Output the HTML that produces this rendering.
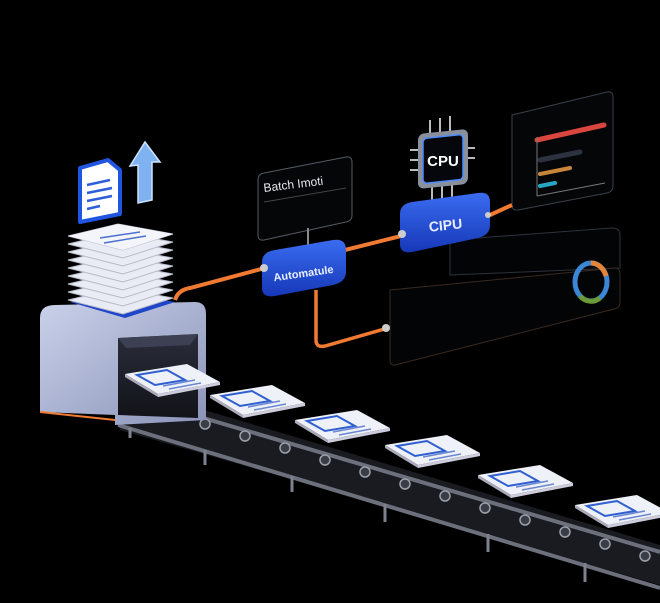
<!DOCTYPE html>
<html><head><style>
html,body{margin:0;padding:0;background:#000;}
svg{display:block;}
text{font-family:"Liberation Sans",sans-serif;}
</style></head><body>
<svg width="660" height="603" viewBox="0 0 660 603" xmlns="http://www.w3.org/2000/svg">
<defs>
<linearGradient id="box" x1="0" y1="0" x2="1" y2="1"><stop offset="0" stop-color="#c9d1ea"/><stop offset="1" stop-color="#8b93b8"/></linearGradient>
<linearGradient id="inner" x1="0" y1="0" x2="0" y2="1"><stop offset="0" stop-color="#2a2d3a"/><stop offset="1" stop-color="#111318"/></linearGradient>
<linearGradient id="pill" x1="0" y1="0" x2="0" y2="1"><stop offset="0" stop-color="#3a6cf0"/><stop offset="1" stop-color="#1638b8"/></linearGradient>
<g id="paper"><polygon points="0,10 62,0 95,18 33,30" fill="#eef1f8"/><polygon points="0,10 33,30 33,33 0,13" fill="#aab"/><polygon points="33,30 95,18 95,21 33,33" fill="#ccd"/><polygon points="12,11 42,6 60,16 30,21" fill="none" stroke="#2f5fd0" stroke-width="2"/><line x1="38" y1="22" x2="70" y2="16" stroke="#6b86d0" stroke-width="1.5"/><line x1="44" y1="25" x2="76" y2="19" stroke="#6b86d0" stroke-width="1.5"/></g>
</defs>
<!-- panels -->
<path d="M512,115 L607,92 Q613,91 613,97 L613,185 Q613,192 607,193 L518,210 Q512,211 512,205 Z" fill="#050608" stroke="#3a3f4a" stroke-width="1"/>
<line x1="537" y1="140" x2="604" y2="125" stroke="#d9463f" stroke-width="5" stroke-linecap="round"/>
<line x1="537" y1="137" x2="537" y2="196" stroke="#777" stroke-width="1"/>
<line x1="537" y1="196" x2="605" y2="183" stroke="#777" stroke-width="1"/>
<line x1="540" y1="160" x2="580" y2="152" stroke="#2c3340" stroke-width="5" stroke-linecap="round"/>
<line x1="540" y1="174" x2="570" y2="168" stroke="#c8863a" stroke-width="4" stroke-linecap="round"/>
<line x1="540" y1="186" x2="555" y2="183" stroke="#27a7c4" stroke-width="4" stroke-linecap="round"/>
<path d="M450,240 L612,228 Q620,228 620,235 L620,268 L450,275 Z" fill="#030405" stroke="#2d323b" stroke-width="1"/>
<path d="M390,290 L615,268 Q620,268 620,275 L620,302 Q620,308 614,309 L395,365 Q390,366 390,360 Z" fill="#030405" stroke="#3a2a20" stroke-width="1"/>
<ellipse cx="591" cy="282" rx="16" ry="19" fill="none" stroke="#3b87d6" stroke-width="5"/>
<path d="M591,263 A16,19 0 0 1 606,276" fill="none" stroke="#e5853a" stroke-width="5"/>
<path d="M580,296 A16,19 0 0 0 600,298" fill="none" stroke="#6a9a3a" stroke-width="5"/>
<!-- pipes -->
<path d="M175,300 Q178,290 190,288 L265,268" fill="none" stroke="#f07a32" stroke-width="4"/>
<path d="M345,250 L405,235" fill="none" stroke="#f07a32" stroke-width="4"/>
<path d="M490,215 L512,205" fill="none" stroke="#f07a32" stroke-width="4"/>
<path d="M316,290 L316,340 Q316,348 325,346 L388,328" fill="none" stroke="#f07a32" stroke-width="3.5"/>
<circle cx="386" cy="328" r="4" fill="#ccc"/>
<!-- batch box -->
<path d="M258,180 Q258,174 264,173 L346,157 Q352,156 352,162 L352,215 Q352,221 346,222 L264,240 Q258,241 258,235 Z" fill="#050608" stroke="#555a66" stroke-width="1"/>
<text x="264" y="192" font-size="12" fill="#e5e7ee" transform="rotate(-7 264 192)">Batch Imoti</text>
<line x1="264" y1="202" x2="346" y2="188" stroke="#444" stroke-width="1"/>
<line x1="308" y1="228" x2="308" y2="246" stroke="#888" stroke-width="2"/>
<!-- Automatule pill -->
<path d="M262,262 Q262,252 275,250 L333,240 Q346,238 346,250 L346,272 Q346,282 333,285 L275,296 Q262,298 262,288 Z" fill="url(#pill)"/>
<text x="304" y="277" font-size="11" font-weight="bold" fill="#e8eeff" text-anchor="middle" transform="rotate(-8 304 277)">Automatule</text>
<circle cx="264" cy="268" r="4" fill="#ccc"/>
<!-- CPU chip -->
<g stroke="#bbb" stroke-width="2"><line x1="430" y1="120" x2="430" y2="135"/><line x1="440" y1="118" x2="440" y2="133"/><line x1="450" y1="116" x2="450" y2="131"/><line x1="410" y1="150" x2="420" y2="150"/><line x1="410" y1="160" x2="420" y2="160"/><line x1="410" y1="170" x2="420" y2="170"/><line x1="465" y1="148" x2="475" y2="148"/><line x1="465" y1="158" x2="475" y2="158"/><line x1="432" y1="185" x2="432" y2="205"/><line x1="442" y1="185" x2="442" y2="205"/><line x1="452" y1="185" x2="452" y2="205"/></g>
<rect x="418" y="132" width="50" height="55" rx="6" fill="#8a8f9c" transform="skewY(-6) translate(0,46)"/>
<rect x="423" y="137" width="40" height="45" rx="4" fill="#05070c" stroke="#4d8cff" stroke-width="1.5" transform="skewY(-6) translate(0,46)"/>
<text x="443" y="166" font-size="15" font-weight="bold" fill="#fff" text-anchor="middle">CPU</text>
<!-- CIPU pill -->
<path d="M400,214 Q400,204 412,202 L478,193 Q490,191 490,202 L490,225 Q490,235 478,238 L412,252 Q400,254 400,244 Z" fill="url(#pill)"/>
<text x="446" y="230" font-size="14" font-weight="bold" fill="#e8eeff" text-anchor="middle" transform="rotate(-6 446 230)">CIPU</text>
<circle cx="402" cy="234" r="4" fill="#ccc"/>
<circle cx="488" cy="215" r="3" fill="#ccc"/>
<!-- conveyor -->
<polygon points="120,385 660,545 660,585 120,430" fill="#1a1b20"/>
<line x1="118" y1="393" x2="660" y2="552" stroke="#6c707c" stroke-width="4"/>
<line x1="118" y1="425" x2="660" y2="588" stroke="#6c707c" stroke-width="4"/>
<g fill="#3a3d46" stroke="#9aa0ad" stroke-width="1.5">
<circle cx="125" cy="400" r="5"/><circle cx="165" cy="412" r="5"/><circle cx="205" cy="424" r="5"/><circle cx="245" cy="436" r="5"/><circle cx="285" cy="448" r="5"/><circle cx="325" cy="460" r="5"/><circle cx="365" cy="472" r="5"/><circle cx="405" cy="484" r="5"/><circle cx="445" cy="496" r="5"/><circle cx="485" cy="508" r="5"/><circle cx="525" cy="520" r="5"/><circle cx="565" cy="532" r="5"/><circle cx="605" cy="544" r="5"/><circle cx="645" cy="556" r="5"/>
</g>
<g stroke="#7d828e" stroke-width="3"><line x1="130" y1="428" x2="130" y2="438"/><line x1="205" y1="450" x2="205" y2="465"/><line x1="292" y1="476" x2="292" y2="492"/><line x1="385" y1="504" x2="385" y2="522"/><line x1="488" y1="534" x2="488" y2="552"/><line x1="585" y1="563" x2="585" y2="582"/></g>
<!-- papers on conveyor -->
<use href="#paper" x="210" y="385"/>
<use href="#paper" x="295" y="410"/>
<use href="#paper" x="385" y="435"/>
<use href="#paper" x="478" y="465"/>
<use href="#paper" x="575" y="495"/>
<!-- machine box -->
<path d="M40,318 Q40,305 55,305 L195,302 Q206,302 206,314 L206,420 L115,425 L115,415 L40,412 Z" fill="url(#box)"/>
<path d="M118,338 L198,334 L198,418 L118,415 Z" fill="url(#inner)"/>
<path d="M118,338 L198,334 L190,345 L126,348 Z" fill="#3c4052"/>
<line x1="40" y1="412" x2="115" y2="420" stroke="#f07a32" stroke-width="2"/>
<use href="#paper" x="125" y="364"/>
<!-- stack -->
<g>
<polygon points="70,302 120,292 175,302 125,318" fill="#1f45c8"/>
<g fill="#e9ecf4" stroke="#b8bccb" stroke-width="1">
<polygon points="68,300 118,288 173,298 123,314"/><polygon points="68,292 118,280 173,290 123,306"/><polygon points="68,284 118,272 173,282 123,298"/><polygon points="68,276 118,264 173,274 123,290"/><polygon points="68,268 118,256 173,266 123,282"/><polygon points="68,260 118,248 173,258 123,274"/><polygon points="68,252 118,240 173,250 123,266"/><polygon points="68,244 118,232 173,242 123,258"/><polygon points="68,236 118,224 173,234 123,250"/>
</g>
<polygon points="68,236 118,224 173,234 123,250" fill="#f3f5fa"/>
<line x1="100" y1="238" x2="140" y2="232" stroke="#4d6fcf" stroke-width="1.5"/>
<line x1="104" y1="243" x2="146" y2="236" stroke="#4d6fcf" stroke-width="1.5"/>
</g>
<!-- doc icon -->
<path d="M80,168 L108,160 L120,170 L120,214 L80,222 Z" fill="#fff" stroke="#1f55e0" stroke-width="4" stroke-linejoin="round"/>
<g stroke="#2c5fd8" stroke-width="2.5"><line x1="87" y1="185" x2="110" y2="180"/><line x1="87" y1="193" x2="112" y2="188"/><line x1="87" y1="201" x2="112" y2="196"/><line x1="87" y1="209" x2="100" y2="206"/></g>
<!-- arrow -->
<polygon points="145,142 160,162 152,162 152,200 138,203 138,165 130,166" fill="#7fb2f0" stroke="#cfe2ff" stroke-width="1.5"/>
</svg>
</body></html>
